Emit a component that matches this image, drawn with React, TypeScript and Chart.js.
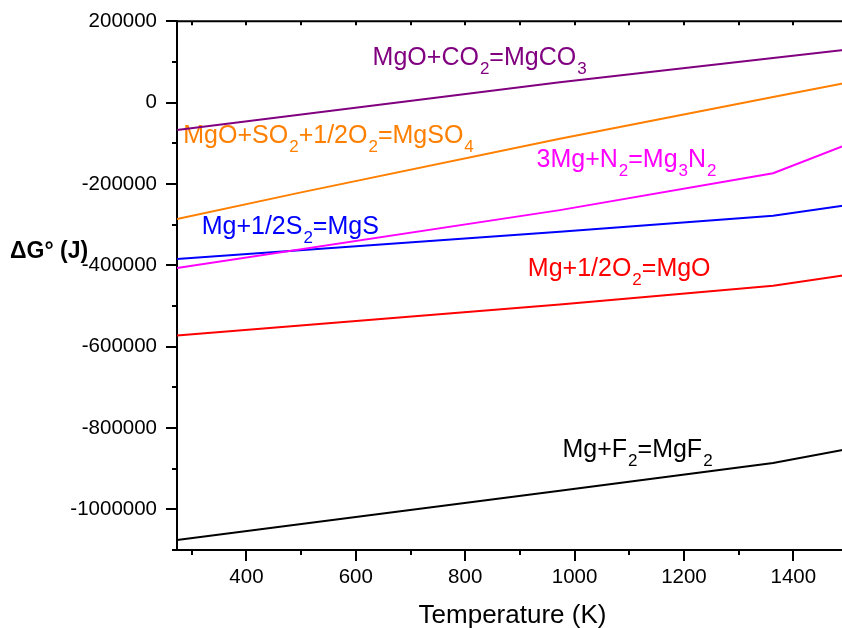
import React, { useEffect, useRef } from 'react';
import { Chart, registerables } from 'chart.js';

Chart.register(...registerables);

// Temperatures (K)
const tempsA = [273, 973, 1363, 1500];
const tempsB = [273, 500, 973, 1363, 1500];

// ΔG° values (J)
const mgco3 = [-67400, 50400, 110000, 130700];
const mgso4 = [-286400, -220600, -88700, 13800, 49400];
const mg3n2 = [-406600, -264300, -173600, -102000];
const mgs = [-384500, -317500, -278300, -251400];
const mgo = [-572600, -496600, -450000, -423100];
const mgf2 = [-1075500, -954500, -885900, -851700];

// Reaction labels ("_x" = subscript x) and their anchor in data coordinates
const labelTexts = [
  'MgO+CO_2=MgCO_3',
  'MgO+SO_2+1/2O_2=MgSO_4',
  '3Mg+N_2=Mg_3N_2',
  'Mg+1/2S_2=MgS',
  'Mg+1/2O_2=MgO',
  'Mg+F_2=MgF_2',
];
const labelTemps = [630.7, 284.5, 930.4, 318.1, 914.5, 977.9];
const labelValues = [91340, -98500, -158100, -323200, -427200, -871150];

const seriesColors = ['#800080', '#FF8000', '#FF00FF', '#0000FF', '#FF0000', '#000000'];

const FONT = "'Liberation Sans', Arial, sans-serif";

function toPoints(xs: number[], ys: number[]) {
  return xs.map((x, i) => ({ x, y: ys[i] }));
}

function drawRich(ctx: CanvasRenderingContext2D, text: string, x: number, y: number, color: string) {
  ctx.fillStyle = color;
  ctx.textBaseline = 'alphabetic';
  ctx.textAlign = 'left';
  let cx = x;
  let i = 0;
  while (i < text.length) {
    if (text[i] === '_' && i + 1 < text.length) {
      ctx.font = `17px ${FONT}`;
      const s = text[i + 1];
      ctx.fillText(s, cx + 1, y + 9);
      cx += ctx.measureText(s).width + 1;
      i += 2;
    } else {
      let j = i;
      while (j < text.length && text[j] !== '_') j++;
      const s = text.slice(i, j);
      ctx.font = `25px ${FONT}`;
      ctx.fillText(s, cx, y);
      cx += ctx.measureText(s).width;
      i = j;
    }
  }
}

const decorPlugin = {
  id: 'decor',
  beforeDatasetsDraw(chart: any) {
    const ctx = chart.ctx as CanvasRenderingContext2D;
    const xs = chart.scales.x;
    const ys = chart.scales.y;
    ctx.save();
    labelTexts.forEach((t, i) => {
      drawRich(ctx, t, xs.getPixelForValue(labelTemps[i]), ys.getPixelForValue(labelValues[i]), seriesColors[i]);
    });
    ctx.restore();
  },
  afterDraw(chart: any) {
    const ctx = chart.ctx as CanvasRenderingContext2D;
    const { left, right, top, bottom } = chart.chartArea;
    const xs = chart.scales.x;
    const ys = chart.scales.y;
    ctx.save();
    ctx.strokeStyle = '#000';
    ctx.lineWidth = 2;
    // top and right frame lines
    ctx.beginPath();
    ctx.moveTo(left - 1, top);
    ctx.lineTo(right, top);
    ctx.moveTo(right, top);
    ctx.lineTo(right, bottom);
    ctx.stroke();
    // x ticks
    ctx.beginPath();
    xs.ticks.forEach((t: any) => {
      const v = Math.round(t.value);
      const px = Math.round(xs.getPixelForValue(v));
      const major = v % 200 === 0;
      ctx.moveTo(px, bottom);
      ctx.lineTo(px, bottom + (major ? 11 : 5));
      ctx.moveTo(px, top);
      ctx.lineTo(px, top + 4);
    });
    // y ticks
    ys.ticks.forEach((t: any) => {
      const v = Math.round(t.value);
      const py = Math.round(ys.getPixelForValue(v));
      const major = v % 200000 === 0;
      ctx.moveTo(left, py);
      ctx.lineTo(left - (major ? 11 : 5), py);
    });
    ctx.stroke();
    // y axis title (horizontal)
    ctx.fillStyle = '#000';
    ctx.font = `bold 23px ${FONT}`;
    ctx.textAlign = 'left';
    ctx.textBaseline = 'alphabetic';
    ctx.fillText('\u0394G\u00B0 (J)', 10, 258);
    ctx.restore();
  },
};

export default function App() {
  const ref = useRef<HTMLCanvasElement | null>(null);

  useEffect(() => {
    if (!ref.current) return;
    const mk = (xs: number[], ys: number[], color: string, label: string) => ({
      label,
      data: toPoints(xs, ys),
      borderColor: color,
      backgroundColor: color,
      borderWidth: 2,
      pointRadius: 0,
      tension: 0,
      fill: false,
    });
    const chart = new Chart(ref.current, {
      type: 'line',
      data: {
        datasets: [
          mk(tempsA, mgco3, seriesColors[0], 'MgO+CO2=MgCO3'),
          mk(tempsB, mgso4, seriesColors[1], 'MgO+SO2+1/2O2=MgSO4'),
          mk(tempsA, mg3n2, seriesColors[2], '3Mg+N2=Mg3N2'),
          mk(tempsA, mgs, seriesColors[3], 'Mg+1/2S2=MgS'),
          mk(tempsA, mgo, seriesColors[4], 'Mg+1/2O2=MgO'),
          mk(tempsA, mgf2, seriesColors[5], 'Mg+F2=MgF2'),
        ],
      },
      options: {
        animation: false,
        responsive: false,
        devicePixelRatio: 1,
        layout: { padding: { left: 0, top: 20, right: 4, bottom: 0 } },
        plugins: {
          legend: { display: false },
          tooltip: { enabled: false },
        },
        scales: {
          x: {
            type: 'linear',
            min: 273,
            max: 1500,
            grid: { display: false, drawTicks: true, tickLength: 11 },
            border: { display: true, width: 2, color: '#000' },
            ticks: {
              stepSize: 100,
              includeBounds: false,
              autoSkip: false,
              maxRotation: 0,
              padding: 4,
              color: '#000',
              font: { size: 20.5, family: FONT },
              callback: (v: any) => {
                const n = Math.round(Number(v));
                return n % 200 === 0 && n < 1500 ? String(n) : '';
              },
            },
            title: {
              display: true,
              text: 'Temperature (K)',
              color: '#000',
              font: { size: 26, family: FONT, lineHeight: 1 },
              padding: { top: 0, bottom: -1 },
            },
            afterFit: (s: any) => {
              s.height = 78;
            },
          },
          y: {
            type: 'linear',
            min: -1100000,
            max: 200000,
            grid: { display: false, drawTicks: true, tickLength: 11 },
            border: { display: true, width: 2, color: '#000' },
            ticks: {
              stepSize: 100000,
              autoSkip: false,
              padding: 9,
              color: '#000',
              font: { size: 20.5, family: FONT },
              callback: (v: any) => {
                const n = Math.round(Number(v));
                return n % 200000 === 0 ? String(n) : '';
              },
            },
            afterFit: (s: any) => {
              s.width = 177;
            },
          },
        },
      },
      plugins: [decorPlugin],
    } as any);
    return () => chart.destroy();
  }, []);

  return (
    <div
      style={{
        position: 'fixed',
        left: 0,
        top: 0,
        width: 842,
        height: 628,
        overflow: 'hidden',
        background: '#fff',
      }}
    >
      <canvas ref={ref} width={852} height={628} style={{ display: 'block', width: 852, height: 628 }} />
    </div>
  );
}
